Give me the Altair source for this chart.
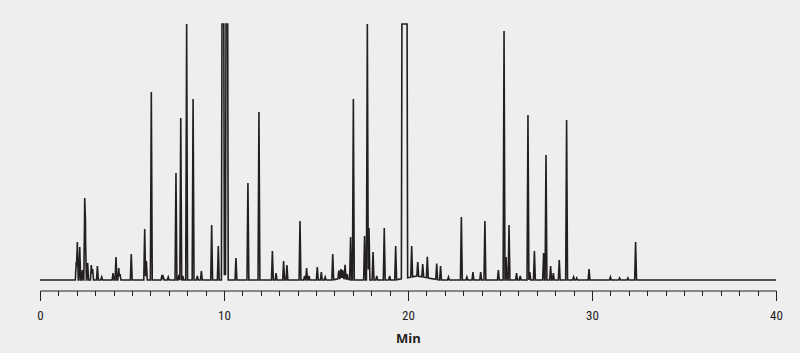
import altair as alt
import pandas as pd

# Peak apex times (min) and heights (signal units; 256 = detector saturation)
peak_times = [1.97, 2.03, 2.16, 2.30, 2.43, 2.47, 2.59, 2.79, 2.86, 3.12, 3.35,
              3.97, 4.13, 4.28, 4.35, 4.96, 5.69, 5.78, 6.05, 6.63, 6.70, 6.97,
              7.39, 7.55, 7.65, 7.76, 7.97, 8.32, 8.55, 8.77, 9.33, 9.69, 10.05,
              10.65, 11.30, 11.90, 12.63, 12.83, 13.24, 13.42, 14.13, 14.38, 14.49,
              14.62, 15.07, 15.29, 15.50, 15.91, 16.24, 16.35, 16.45, 16.58, 16.70,
              16.88, 17.03, 17.64, 17.79, 17.88, 18.10, 18.30, 18.71, 19.00, 19.33,
              20.20, 20.53, 20.80, 21.05, 21.56, 21.77, 22.20, 22.90, 23.20, 23.53,
              23.95, 24.18, 24.91, 25.22, 25.33, 25.49, 25.90, 26.10, 26.52, 26.62,
              26.87, 27.37, 27.50, 27.75, 27.90, 28.22, 28.62, 29.00, 29.17, 29.84,
              31.00, 31.50, 31.95, 32.37]
peak_heights = [18, 38, 33, 10, 73, 45, 17, 15, 11, 14, 3,
                7, 23, 12, 6, 26, 51, 19, 188, 5, 3, 3,
                107, 5, 162, 4, 256, 181, 4, 9, 55, 34, 12,
                22, 97, 168, 29, 7, 19, 15, 59, 4, 12,
                4, 13, 8, 3, 26, 8, 9, 8, 14, 5,
                43, 181, 44, 256, 52, 28, 4, 52, 4, 34,
                31, 14, 13, 21, 16, 14, 3, 63, 3, 8,
                8, 59, 10, 249, 23, 55, 7, 4, 165, 8,
                29, 27, 125, 14, 7, 20, 160, 3, 2, 11,
                3, 2, 2, 38]

# Saturated (flat-topped) peaks: start / end of plateau (min)
plateau_starts = [9.89, 10.11, 19.67]
plateau_ends = [9.99, 10.20, 19.95]

# Broad low humps of the baseline: time, height, half-width
hump_times = [16.4, 20.5]
hump_heights = [2, 4]
hump_widths = [0.5, 1.2]

SAT = 256
HW = 0.05

shapes = []  # (start, end, height, halfwidth)
for t, h in zip(peak_times, peak_heights):
    shapes.append((t, t, h, HW))
for a, b in zip(plateau_starts, plateau_ends):
    shapes.append((a, b, SAT, 0.03))
for t, h, w in zip(hump_times, hump_heights, hump_widths):
    shapes.append((t, t, h, w))

verts = {0.0, 40.0}
for a, b, h, w in shapes:
    verts.update([round(a - w, 4), a, b, round(b + w, 4)])
verts = sorted(v for v in verts if 0 <= v <= 40)


def value_at(t):
    s = 0.0
    for a, b, h, w in shapes:
        if a <= t <= b:
            s += h
        elif a - w < t < a:
            s += h * (1 - (a - t) / w)
        elif b < t < b + w:
            s += h * (1 - (t - b) / w)
    return min(s, SAT)


trace = pd.DataFrame({"time": verts, "signal": [value_at(v) for v in verts]})

ink = "#231f20"

chart = alt.Chart(trace).mark_line(color=ink, strokeWidth=1.6).encode(
    x=alt.X(
        "time:Q",
        scale=alt.Scale(domain=[0, 40], nice=False),
        axis=alt.Axis(
            values=list(range(41)),
            tickSize={"condition": {"test": "datum.value % 10 === 0", "value": 10}, "value": 5},
            labelExpr="datum.value % 10 === 0 ? datum.label : ''",
            labelOverlap=False,
            labelFlush=False,
            offset=10.5,
            grid=False,
            domainColor=ink,
            domainWidth=1.2,
            tickColor=ink,
            tickWidth=1,
            labelFont="Liberation Sans Narrow, Roboto Condensed, Roboto, sans-serif",
            labelFontSize=13,
            labelColor=ink,
            labelPadding=9,
            title="Min",
            titleFont="Open Sans, sans-serif",
            titleFontSize=13,
            titleFontWeight="bold",
            titleColor=ink,
            titlePadding=10,
        ),
    ),
    y=alt.Y("signal:Q", scale=alt.Scale(domain=[0, 260], nice=False), axis=None),
).properties(
    width=736,
    height=260,
    background="#eeeeee",
    padding={"left": 40, "top": 20, "right": 24, "bottom": 73},
    autosize="none",
).configure_view(stroke=None)

chart.save("out.html", embed_options={"renderer": "svg", "actions": False})
